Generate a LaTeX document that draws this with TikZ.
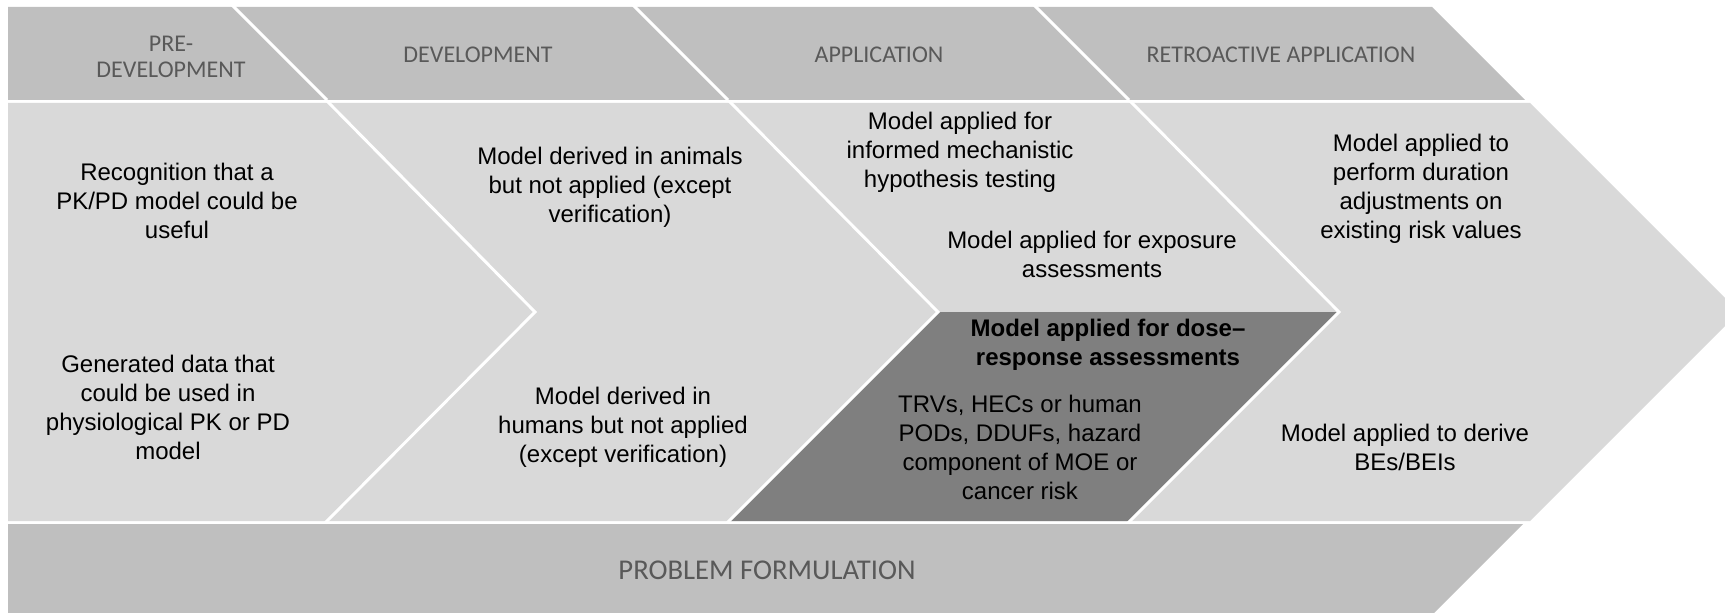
\documentclass[tikz,border=0pt]{standalone}
\usepackage{fontspec}
\setmainfont{Liberation Sans}
\newfontfamily\hdrfont{Carlito}
\definecolor{bandgray}{HTML}{BFBFBF}
\definecolor{stagegray}{HTML}{D9D9D9}
\definecolor{darkgray}{HTML}{7F7F7F}
\definecolor{hdrtext}{HTML}{595959}
\tikzset{
  body/.style={font=\fontsize{18}{21.75}\selectfont, align=center, inner sep=0pt, text=black},
  bodybold/.style={body, font=\bfseries\fontsize{18}{21.75}\selectfont},
  hdr/.style={font=\hdrfont\fontsize{18}{19.5}\selectfont, align=center, inner sep=0pt, text=hdrtext},
  sep/.style={draw=white, line width=2.2pt, line join=miter},
}
\begin{document}
\begin{tikzpicture}[x=0.75pt, y=-0.75pt]
\useasboundingbox (0,0) rectangle (1725,613);
\begin{scope}
\clip (0,0) rectangle (1725,613);
% header band
\fill[bandgray] (8,7) -- (1432,7) -- (1525,100) -- (8,100) -- cycle;
% stage band with final arrow tip
\fill[stagegray] (8,103) -- (1530,103) -- (1739,312) -- (1530,521) -- (8,521) -- cycle;
% highlighted dose-response region
\fill[darkgray] (938,312) -- (1339,312) -- (1130,521) -- (729,521) -- cycle;
% problem formulation band
\fill[bandgray] (8,524) -- (1523,524) -- (1434,613) -- (8,613) -- cycle;
% separators between the header cells
\draw[sep] (232,5) -- (327,100);
\draw[sep] (633,5) -- (728,100);
\draw[sep] (1034,5) -- (1129,100);
% chevron separators between the stages
\draw[sep] (327,101) -- (535,312) -- (325,523);
\draw[sep] (729,101) -- (938,312) -- (727,523);
\draw[sep] (1130,101) -- (1339,312) -- (1128,523);
\end{scope}

% header labels
\node[hdr] (hPre) at (171,57) {PRE-\\DEVELOPMENT};
\node[hdr] (hDev) at (478,55) {DEVELOPMENT};
\node[hdr] (hApp) at (879,55) {APPLICATION};
\node[hdr] (hRetro) at (1281,55) {RETROACTIVE APPLICATION};

% pre-development
\node[body] (tRecog) at (177,201) {Recognition that a\\PK/PD model could be\\useful};
\node[body] (tGen) at (168,407) {Generated data that\\could be used in\\physiological PK or PD\\model};

% development
\node[body] (tAnimals) at (610,187) {Model derived in animals\\but not applied (except\\verification)};
\node[body] (tHumans) at (623,427) {Model derived in\\humans but not applied\\(except verification)};

% application
\node[body] (tMech) at (960,152) {Model applied for\\informed mechanistic\\hypothesis testing};
\node[body] (tExpo) at (1092,254) {Model applied for exposure\\assessments};
\node[bodybold] (tDose) at (1108,345) {Model applied for dose--\\response assessments};
\node[body] (tTRV) at (1020,447) {TRVs, HECs or human\\PODs, DDUFs, hazard\\component of MOE or\\cancer risk};

% retroactive application
\node[body] (tDur) at (1421,189) {Model applied to\\perform duration\\adjustments on\\existing risk values};
\node[body] (tBE) at (1405,447) {Model applied to derive\\BEs/BEIs};

% problem formulation
\node[hdr, font=\hdrfont\fontsize{21.5}{24}\selectfont] (tProb) at (767,570) {PROBLEM FORMULATION};
\end{tikzpicture}
\end{document}
